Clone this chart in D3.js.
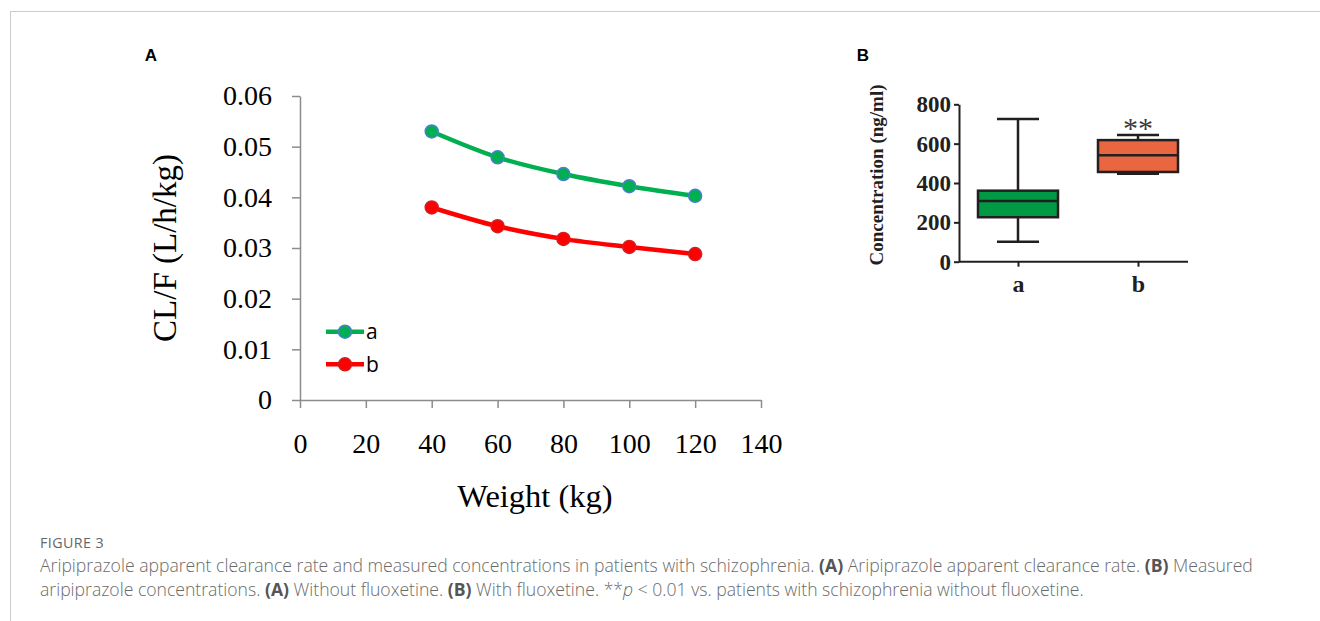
<!DOCTYPE html>
<html>
<head>
<meta charset="utf-8">
<script src="https://cdn.jsdelivr.net/npm/d3@7"></script>
<style>
  html, body { margin: 0; padding: 0; background: #fff; }
  svg { display: block; }
</style>
</head>
<body>
<svg id="chart" width="1320" height="621"></svg>
<script>
// ---------- Data ----------
const weights = [40, 60, 80, 100, 120];
const seriesNames = ["a", "b"];
const clA = [0.0530, 0.0479, 0.0446, 0.0422, 0.0403];
const clB = [0.0380, 0.0343, 0.0318, 0.0302, 0.0288];
const xTicksA = [0, 20, 40, 60, 80, 100, 120, 140];
const yTicksA = [0, 0.01, 0.02, 0.03, 0.04, 0.05, 0.06];

const boxGroups = ["a", "b"];
const boxMin = [102, 447];
const boxQ1 = [226, 456];
const boxMedian = [308, 541];
const boxQ3 = [361, 618];
const boxMax = [725, 644];
const yTicksB = [0, 200, 400, 600, 800];

const captionTitle = "FIGURE 3";

// ---------- Setup ----------
const svg = d3.select("#chart");
const serif = "'Liberation Serif', 'Times New Roman', serif";
const sans = "'Liberation Sans', Arial, sans-serif";

// frame
svg.append("line").attr("x1", 10).attr("x2", 1320).attr("y1", 11.5).attr("y2", 11.5)
  .attr("stroke", "#cccccc").attr("stroke-width", 1);
svg.append("line").attr("x1", 10.5).attr("x2", 10.5).attr("y1", 11).attr("y2", 621)
  .attr("stroke", "#cccccc").attr("stroke-width", 1);

// panel letters
svg.append("text").attr("x", 151).attr("y", 61).attr("text-anchor", "middle")
  .attr("font-family", sans).attr("font-weight", "bold").attr("font-size", 17).text("A");
svg.append("text").attr("x", 863).attr("y", 61).attr("text-anchor", "middle")
  .attr("font-family", sans).attr("font-weight", "bold").attr("font-size", 17).text("B");

// ---------- Panel A ----------
const xA = d3.scaleLinear().domain([0, 140]).range([300, 761]);
const yA = d3.scaleLinear().domain([0, 0.06]).range([400, 96]);
const axisColA = "#8c8c8c";

const gxA = svg.append("g").attr("transform", `translate(0,${yA(0)})`)
  .call(d3.axisBottom(xA).tickValues(xTicksA).tickSize(8).tickPadding(25).tickSizeOuter(0).tickFormat(d3.format("d")));
const gyA = svg.append("g").attr("transform", `translate(${xA(0)},0)`)
  .call(d3.axisLeft(yA).tickValues(yTicksA).tickSize(8).tickPadding(20).tickSizeOuter(0)
    .tickFormat(d => d === 0 ? "0" : d.toFixed(2)));
[gxA, gyA].forEach(g => {
  g.select(".domain").attr("stroke", axisColA).attr("stroke-width", 1.5);
  g.selectAll(".tick line").attr("stroke", axisColA).attr("stroke-width", 1.5);
  g.selectAll(".tick text").attr("fill", "#000").attr("font-family", serif).attr("font-size", 28);
});

svg.append("text")
  .attr("transform", `translate(176,248) rotate(-90)`)
  .attr("text-anchor", "middle").attr("font-family", serif).attr("font-size", 33)
  .text("CL/F (L/h/kg)");
svg.append("text").attr("x", 535).attr("y", 507).attr("text-anchor", "middle")
  .attr("font-family", serif).attr("font-size", 32.5).text("Weight (kg)");

const seriesA = [
  { name: seriesNames[0], values: clA, color: "#00b050", mstroke: "#4a7fd0" },
  { name: seriesNames[1], values: clB, color: "#ff0000", mstroke: "#d02020" }
];
const lineA = d3.line().x((d, i) => xA(weights[i])).y(d => yA(d)).curve(d3.curveMonotoneX);
seriesA.forEach(s => {
  svg.append("path").attr("d", lineA(s.values)).attr("fill", "none")
    .attr("stroke", s.color).attr("stroke-width", 4.5).attr("stroke-linejoin", "round");
  svg.selectAll(null).data(s.values).enter().append("circle")
    .attr("cx", (d, i) => xA(weights[i])).attr("cy", d => yA(d)).attr("r", 6.5)
    .attr("fill", s.color).attr("stroke", s.mstroke).attr("stroke-width", 1.5);
});

// legend
seriesA.forEach((s, i) => {
  const ly = 331.7 + i * 32.6;
  svg.append("line").attr("x1", 326).attr("x2", 364).attr("y1", ly).attr("y2", ly)
    .attr("stroke", s.color).attr("stroke-width", 4.5);
  svg.append("circle").attr("cx", 345).attr("cy", ly).attr("r", 6.5)
    .attr("fill", s.color).attr("stroke", s.mstroke).attr("stroke-width", 1.5);
  svg.append("text").attr("x", 366).attr("y", ly + 7.5).attr("font-family", "'Open Sans', sans-serif")
    .attr("font-size", 21).attr("fill", "#000").text(s.name);
});

// ---------- Panel B ----------
const xB = d3.scalePoint().domain(boxGroups).range([1018, 1138]);
const yB = d3.scaleLinear().domain([0, 800]).range([261.7, 104.3]);
const dark = "#231f20";

const gxB = svg.append("g").attr("transform", `translate(0,${yB(0)})`);
gxB.append("line").attr("x1", 959).attr("x2", 1188).attr("y1", 0).attr("y2", 0)
  .attr("stroke", dark).attr("stroke-width", 2);
gxB.call(d3.axisBottom(xB).tickSize(5).tickPadding(8).tickSizeOuter(0));
gxB.select(".domain").remove();
const gyB = svg.append("g").attr("transform", `translate(959,0)`)
  .call(d3.axisLeft(yB).tickValues(yTicksB).tickSize(5).tickPadding(3).tickSizeOuter(0));
[gxB, gyB].forEach(g => {
  g.select(".domain").attr("stroke", dark).attr("stroke-width", 2);
  g.selectAll(".tick line").attr("stroke", dark).attr("stroke-width", 2);
  g.selectAll(".tick text").attr("fill", dark).attr("font-family", serif)
    .attr("font-weight", "bold").attr("font-size", 23);
});
gxB.selectAll(".tick text").attr("font-size", 24);

svg.append("text")
  .attr("transform", `translate(883,175) rotate(-90)`)
  .attr("text-anchor", "middle").attr("font-family", serif).attr("font-weight", "bold")
  .attr("font-size", 19).attr("fill", dark).text("Concentration (ng/ml)");

const boxColors = ["#009a44", "#e96640"];
const boxW = 80, capW = 42;
boxGroups.forEach((g, i) => {
  const cx = xB(g);
  svg.append("line").attr("x1", cx).attr("x2", cx).attr("y1", yB(boxMax[i])).attr("y2", yB(boxQ3[i]))
    .attr("stroke", dark).attr("stroke-width", 2.5);
  svg.append("line").attr("x1", cx).attr("x2", cx).attr("y1", yB(boxQ1[i])).attr("y2", yB(boxMin[i]))
    .attr("stroke", dark).attr("stroke-width", 2.5);
  [boxMax[i], boxMin[i]].forEach(v => {
    svg.append("line").attr("x1", cx - capW / 2).attr("x2", cx + capW / 2)
      .attr("y1", yB(v)).attr("y2", yB(v)).attr("stroke", dark).attr("stroke-width", 2.5);
  });
  svg.append("rect").attr("x", cx - boxW / 2).attr("y", yB(boxQ3[i]))
    .attr("width", boxW).attr("height", yB(boxQ1[i]) - yB(boxQ3[i]))
    .attr("fill", boxColors[i]).attr("stroke", dark).attr("stroke-width", 2.5);
  svg.append("line").attr("x1", cx - boxW / 2).attr("x2", cx + boxW / 2)
    .attr("y1", yB(boxMedian[i])).attr("y2", yB(boxMedian[i])).attr("stroke", dark).attr("stroke-width", 2.5);
});
svg.append("text").attr("x", xB("b")).attr("y", yB(boxMax[1]) + 3).attr("text-anchor", "middle")
  .attr("font-family", serif).attr("font-size", 30).attr("fill", "#3a3a3a").text("**");

// ---------- Caption ----------
const capFont = "'Open Sans', sans-serif";
svg.append("text").attr("x", 40).attr("y", 548).attr("font-family", capFont)
  .attr("font-size", 14.3).attr("fill", "#666").attr("letter-spacing", 0.4).text(captionTitle);

const captionLines = [
  [["Aripiprazole apparent clearance rate and measured concentrations in patients with schizophrenia. ", 0],
   ["(A)", 1], [" Aripiprazole apparent clearance rate. ", 0], ["(B)", 1], [" Measured", 0]],
  [["aripiprazole concentrations. ", 0], ["(A)", 1], [" Without fluoxetine. ", 0], ["(B)", 1],
   [" With fluoxetine. ", 0], ["**", 0], ["p", 2], [" < 0.01 vs. patients with schizophrenia without fluoxetine.", 0]]
];
captionLines.forEach((parts, li) => {
  const t = svg.append("text").attr("x", 40).attr("y", 572 + li * 23.5)
    .attr("font-family", capFont).attr("font-size", 17.6).attr("font-weight", 300).attr("fill", "#6a6a6a");
  parts.forEach(([txt, sty]) => {
    const ts = t.append("tspan").text(txt);
    if (sty === 1) ts.attr("font-weight", "bold").attr("fill", "#555");
    if (sty === 2) ts.attr("font-style", "italic");
  });
});
</script>
</body>
</html>
